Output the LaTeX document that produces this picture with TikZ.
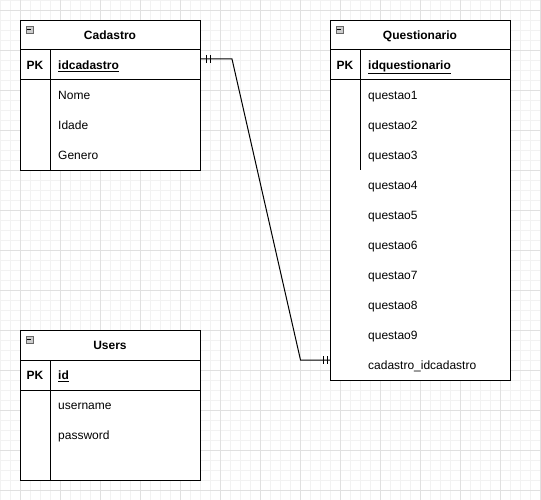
\documentclass[tikz,border=0pt]{standalone}
\usepackage{fontspec}
\setmainfont{Liberation Sans}
\begin{document}
\begin{tikzpicture}[x=1pt,y=-1pt,font=\fontsize{12}{14}\selectfont,
  minorgrid/.style={draw=black!5,line width=0.8pt},
  majorgrid/.style={draw=black!12,line width=0.8pt},
  tbl/.style={draw=black,line width=1pt,fill=white,inner sep=0pt,anchor=north west},
  sep/.style={draw=black,line width=1pt},
  hdr/.style={font=\fontsize{12}{14}\selectfont\bfseries,inner sep=0pt,anchor=base},
  fld/.style={anchor=base west,inner sep=0pt},
  minusbox/.style={draw=black!60,fill=black!20,line width=0.6pt,minimum size=7pt,inner sep=0pt},
  conn/.style={draw=black,line width=1pt},
  tick/.style={draw=black,line width=1pt}]
\useasboundingbox (0,0) rectangle (541,500);
\fill[white] (0,0) rectangle (541,500);
% grid
\foreach \x in {0,10,...,540} \draw[minorgrid] (\x,0) -- (\x,500);
\foreach \y in {0,10,...,500} \draw[minorgrid] (0,\y) -- (541,\y);
\foreach \x in {20,60,...,540} \draw[majorgrid] (\x,0) -- (\x,500);
\foreach \y in {10,50,...,490} \draw[majorgrid] (0,\y) -- (541,\y);

% Cadastro
\node[tbl,minimum width=180pt,minimum height=150pt] (cad) at (20,20) {};
\draw[sep] (20,50) -- (200,50);
\draw[sep] (20,80) -- (200,80);
\draw[sep] (50,50) -- (50,170);
\node[minusbox] (cadm) at (29.5,29.5) {};
\draw[line width=0.9pt] (cadm.west) ++(1.4pt,0) -- ++(4.2pt,0);
\node[hdr] (cadt) at (110,39.3) {Cadastro};
\node[hdr] (cadpk) at (35,69.3) {PK};
\node[fld,font=\fontsize{12}{14}\selectfont\bfseries] (cadid) at (58,69.3) {\underline{idcadastro}};
\node[fld] (cad1) at (58,99.3) {Nome};
\node[fld] (cad2) at (58,129.3) {Idade};
\node[fld] (cad3) at (58,159.3) {Genero};

% Questionario
\node[tbl,minimum width=180pt,minimum height=360pt] (que) at (330,20) {};
\draw[sep] (330,50) -- (510,50);
\draw[sep] (330,80) -- (510,80);
\draw[sep] (360,50) -- (360,170);
\node[minusbox] (quem) at (339.5,29.5) {};
\draw[line width=0.9pt] (quem.west) ++(1.4pt,0) -- ++(4.2pt,0);
\node[hdr] (quet) at (420,39.3) {Questionario};
\node[hdr] (quepk) at (345,69.3) {PK};
\node[fld,font=\fontsize{12}{14}\selectfont\bfseries] (queid) at (368,69.3) {\underline{idquestionario}};
\foreach \i in {1,...,9} \node[fld] (q\i) at (368,69.3+30*\i) {questao\i};
\node[fld] (qfk) at (368,369.3) {cadastro\_idcadastro};

% Users
\node[tbl,minimum width=180pt,minimum height=150pt] (usr) at (20,330) {};
\draw[sep] (20,360) -- (200,360);
\draw[sep] (20,390) -- (200,390);
\draw[sep] (50,360) -- (50,480);
\node[minusbox] (usrm) at (29.5,339.5) {};
\draw[line width=0.9pt] (usrm.west) ++(1.4pt,0) -- ++(4.2pt,0);
\node[hdr] (usrt) at (110,349.3) {Users};
\node[hdr] (usrpk) at (35,379.3) {PK};
\node[fld,font=\fontsize{12}{14}\selectfont\bfseries] (usrid) at (58,379.3) {\underline{id}};
\node[fld] (usr1) at (58,409.3) {username};
\node[fld] (usr2) at (58,439.3) {password};

% connector
\coordinate (ca) at (cad.east|-0,59);
\coordinate (qa) at (que.west|-0,360);
\coordinate (b1) at (232,59);
\coordinate (b2) at (300.5,360);
\draw[conn] (ca) -- (b1) -- (b2) -- (qa);
\draw[tick] (206,55) -- (206,63);
\draw[tick] (210,55) -- (210,63);
\draw[tick] (323,356) -- (323,364);
\draw[tick] (327,356) -- (327,364);
\end{tikzpicture}
\end{document}
